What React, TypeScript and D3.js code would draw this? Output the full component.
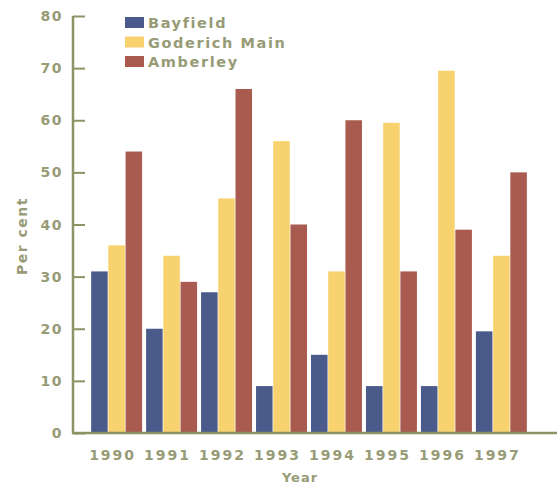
import React, { useEffect, useRef } from 'react';
import * as d3 from 'd3';

const years = ['1990', '1991', '1992', '1993', '1994', '1995', '1996', '1997'];
const seriesNames = ['Bayfield', 'Goderich Main', 'Amberley'];
const bayfield = [31, 20, 27, 9, 15, 9, 9, 19.5];
const goderichMain = [36, 34, 45, 56, 31, 59.5, 69.5, 34];
const amberley = [54, 29, 66, 40, 60, 31, 39, 50];
const yTicks = [0, 10, 20, 30, 40, 50, 60, 70, 80];

const colors = ['#4a5a8b', '#f7d26e', '#a95b4f'];
const textColor = '#979b76';
const axisColor = '#8c9466';

const App: React.FC = () => {
  const svgRef = useRef<SVGSVGElement>(null);

  useEffect(() => {
    if (!svgRef.current) return;
    const svg = d3.select(svgRef.current);
    svg.selectAll('*').remove();

    const width = 557;
    const left = 73;
    const zeroY = 433;
    const topY = 16;
    const font = '"DejaVu Sans", sans-serif';

    const y = d3.scaleLinear().domain([0, 80]).range([zeroY, topY]);

    const x0 = d3.scaleBand<string>()
      .domain(years)
      .range([left, 545])
      .paddingInner(0.073)
      .paddingOuter(0.33);

    const x1 = d3.scaleBand<string>()
      .domain(seriesNames)
      .range([0, x0.bandwidth()])
      .paddingInner(0.04);

    const series = [bayfield, goderichMain, amberley];

    // bars
    const groups = svg.append('g')
      .selectAll('g')
      .data(years)
      .join('g')
      .attr('transform', d => `translate(${x0(d)},0)`);

    groups.selectAll('rect')
      .data((_, i) => seriesNames.map((name, s) => ({ name, value: series[s][i], s })))
      .join('rect')
      .attr('x', d => x1(d.name)!)
      .attr('width', x1.bandwidth())
      .attr('y', d => y(d.value))
      .attr('height', d => zeroY - y(d.value))
      .attr('fill', d => colors[d.s]);

    // y axis
    const yAxis = svg.append('g')
      .attr('transform', `translate(${left},0)`)
      .call(d3.axisRight(y).tickValues(yTicks).tickSize(12).tickFormat(() => ''));
    yAxis.select('.domain').remove();
    yAxis.selectAll('line').attr('stroke', axisColor).attr('stroke-width', 2);
    svg.append('line')
      .attr('x1', left).attr('x2', left)
      .attr('y1', topY).attr('y2', zeroY)
      .attr('stroke', axisColor).attr('stroke-width', 2.5);

    svg.append('g')
      .selectAll('text')
      .data(yTicks)
      .join('text')
      .attr('x', 63)
      .attr('y', d => y(d) + 5)
      .attr('text-anchor', 'end')
      .attr('font-family', font)
      .attr('font-weight', 'bold')
      .attr('font-size', 14)
      .attr('letter-spacing', 1.5)
      .attr('fill', textColor)
      .text(d => d);

    // x axis
    svg.append('line')
      .attr('x1', left - 1).attr('x2', width)
      .attr('y1', zeroY).attr('y2', zeroY)
      .attr('stroke', axisColor).attr('stroke-width', 2.5);

    svg.append('g')
      .selectAll('text')
      .data(years)
      .join('text')
      .attr('x', d => x0(d)! + x0.bandwidth() / 2 - 4)
      .attr('y', 460)
      .attr('text-anchor', 'middle')
      .attr('font-family', font)
      .attr('font-weight', 'bold')
      .attr('font-size', 14)
      .attr('letter-spacing', 2)
      .attr('fill', textColor)
      .text(d => d);

    svg.append('text')
      .attr('x', 300)
      .attr('y', 482)
      .attr('text-anchor', 'middle')
      .attr('font-family', font)
      .attr('font-weight', 'bold')
      .attr('font-size', 13)
      .attr('letter-spacing', 1)
      .attr('fill', textColor)
      .text('Year');

    svg.append('text')
      .attr('transform', 'translate(27,236) rotate(-90)')
      .attr('text-anchor', 'middle')
      .attr('font-family', font)
      .attr('font-weight', 'bold')
      .attr('font-size', 14)
      .attr('letter-spacing', 1.5)
      .attr('fill', textColor)
      .text('Per cent');

    // legend
    const legend = svg.append('g')
      .selectAll('g')
      .data(seriesNames)
      .join('g')
      .attr('transform', (_, i) => `translate(125,${17 + i * 19.5})`);
    legend.append('rect')
      .attr('width', 19)
      .attr('height', 11)
      .attr('fill', (_, i) => colors[i]);
    legend.append('text')
      .attr('x', 23)
      .attr('y', 11)
      .attr('font-family', font)
      .attr('font-weight', 'bold')
      .attr('font-size', 14.5)
      .attr('letter-spacing', 1.6)
      .attr('fill', textColor)
      .text(d => d);
  }, []);

  return (
    <svg
      ref={svgRef}
      width={557}
      height={484}
      style={{ position: 'absolute', left: 0, top: 0, background: '#fff' }}
    />
  );
};

export default App;
